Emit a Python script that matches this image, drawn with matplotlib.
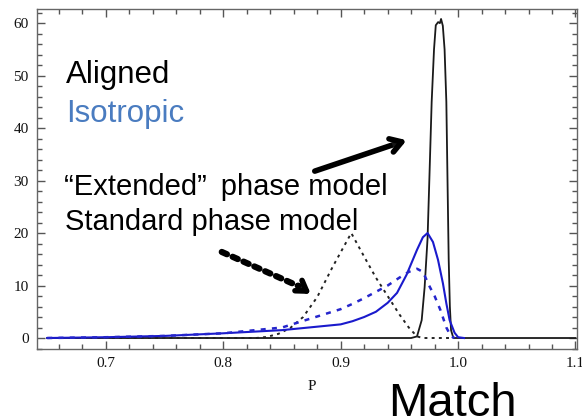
import numpy as np
import matplotlib
matplotlib.use('Agg')
import matplotlib.pyplot as plt
from matplotlib.ticker import MultipleLocator
from matplotlib import patheffects as pe

# Распределения по P для двух моделей фазы
# Aligned, "extended" phase model (сплошная чёрная)
p_al_ext = [0.65, 0.96, 0.965, 0.969, 0.9715, 0.974, 0.9755, 0.9775, 0.9795, 0.981,
            0.983, 0.9845, 0.9855, 0.987, 0.9885, 0.990, 0.991, 0.992, 0.993, 0.994,
            0.996, 1.1]
v_al_ext = [0, 0, 0.3, 3.4, 9.7, 19, 30, 45, 55, 59.6,
            60.2, 60.0, 60.8, 59.5, 55, 45, 30, 15, 6, 1.5,
            0, 0]

# Aligned, standard phase model (пунктир чёрный)
p_al_std = [0.65, 0.828, 0.837, 0.847, 0.857, 0.868, 0.88, 0.893, 0.909, 0.92,
            0.93, 0.94, 0.95, 0.958, 0.965, 0.97, 0.997]
v_al_std = [0, 0, 0.2, 0.8, 1.9, 4, 7.8, 13.5, 20, 15.5,
            11.5, 8, 4.5, 2, 0.3, 0, 0]

# Isotropic, "extended" phase model (сплошная синяя)
p_iso_ext = [0.65, 0.7, 0.75, 0.8, 0.85, 0.9, 0.91, 0.92, 0.93, 0.94,
             0.948, 0.956, 0.965, 0.970, 0.974, 0.9786, 0.9829, 0.9871, 0.990, 0.9928,
             0.997, 1.0, 1.005]
v_iso_ext = [0, 0.15, 0.4, 0.9, 1.5, 2.6, 3.2, 4.0, 5.0, 6.7,
             8.6, 12, 16.8, 19.2, 20, 18.3, 14.9, 10.4, 6.6, 3.4,
             1.0, 0.15, 0]

# Isotropic, standard phase model (пунктир синий)
p_iso_std = [0.65, 0.7, 0.75, 0.8, 0.85, 0.9, 0.91, 0.92, 0.93, 0.94,
             0.95, 0.958, 0.965, 0.970, 0.976, 0.98, 0.985, 0.99, 0.994, 0.997]
v_iso_std = [0, 0.15, 0.4, 0.9, 2.0, 5.5, 6.5, 7.6, 8.8, 10,
             11.5, 12.6, 13.2, 12.6, 9.7, 8, 5.3, 2, 0.3, 0]

x_ticks = [0.7, 0.8, 0.9, 1.0, 1.1]
y_ticks = [0, 10, 20, 30, 40, 50, 60]

fig = plt.figure(figsize=(5.82, 4.18), dpi=100)
ax = fig.add_axes([0.0636, 0.165, 0.9278, 0.8135])

ax.plot(p_al_ext, v_al_ext, color='#1a1a1a', lw=1.3)
ax.plot(p_al_std, v_al_std, color='#222222', lw=1.4, ls=(0, (1.5, 2.2)))
ax.plot(p_iso_ext, v_iso_ext, color='#1a1acc', lw=1.5)
ax.plot(p_iso_std, v_iso_std, color='#2626cc', lw=1.8, ls=(0, (2, 2.5)))

ax.set_xlim(0.6413, 1.1013)
ax.set_ylim(-2.1, 62.7)
ax.set_xticks(x_ticks)
ax.set_xticklabels(['0.7', '0.8', '0.9', '1.0', '1.1'])
ax.set_yticks(y_ticks)
ax.xaxis.set_minor_locator(MultipleLocator(0.02))
ax.yaxis.set_minor_locator(MultipleLocator(2))

ax.tick_params(which='both', direction='in', top=True, right=True,
               color='#555555', width=1)
ax.tick_params(which='major', length=6)
ax.tick_params(which='minor', length=3.5)
ax.tick_params(axis='x', pad=6)
ax.tick_params(axis='y', pad=6)
for lab in ax.get_xticklabels() + ax.get_yticklabels():
    lab.set_family('Liberation Serif')
    lab.set_fontsize(11)
    lab.set_color('#111111')
for s in ax.spines.values():
    s.set_color('#666666')
    s.set_linewidth(1)

fig.text(312 / 582, 1 - 387 / 418, 'P', family='Liberation Serif', fontsize=11,
         ha='center', va='center', color='#111111')

sans = 'Liberation Sans'
fig.text(66 / 582, 1 - 83 / 418, 'Aligned', family=sans, fontsize=22.5,
         color='black', va='baseline')
fig.text(66 / 582, 1 - 122 / 418, 'Isotropic', family=sans, fontsize=22.5,
         color='#4a7cc0', va='baseline')
fig.text(64 / 582, 1 - 195 / 418, '\u201cExtended\u201d\u2009 phase model', family=sans,
         fontsize=21, color='black', va='baseline')
fig.text(65 / 582, 1 - 230 / 418, 'Standard phase model', family=sans,
         fontsize=21, color='black', va='baseline')
fig.text(388 / 582, 1 - 416 / 418, 'Match', family=sans, fontsize=34,
         color='black', va='baseline')

shadow = [pe.SimplePatchShadow(offset=(1.5, -1.5), alpha=0.3), pe.Normal()]
shadow_dots = [pe.SimplePatchShadow(offset=(1, -1), alpha=0.2), pe.Normal()]

# стрелка к "extended" модели
ax.annotate('', xy=(0.9562, 37.7), xytext=(0.8779, 31.8),
            arrowprops=dict(arrowstyle='->,head_length=0.8,head_width=0.5',
                            lw=4, color='black', shrinkA=0, shrinkB=0,
                            path_effects=shadow))

# пунктирная стрелка к стандартной модели
ax.annotate('', xy=(0.866, 9.7), xytext=(0.7987, 16.4),
            arrowprops=dict(arrowstyle='-', lw=4.5, ls=(0, (0.9, 1.0)),
                            color='black', shrinkA=0, shrinkB=0,
                            path_effects=shadow_dots))
ax.annotate('', xy=(0.8745, 8.4), xytext=(0.864, 10.0),
            arrowprops=dict(arrowstyle='->,head_length=0.7,head_width=0.45',
                            lw=4, color='black', shrinkA=0, shrinkB=0,
                            path_effects=shadow))

fig.savefig('out.png', dpi=100)
